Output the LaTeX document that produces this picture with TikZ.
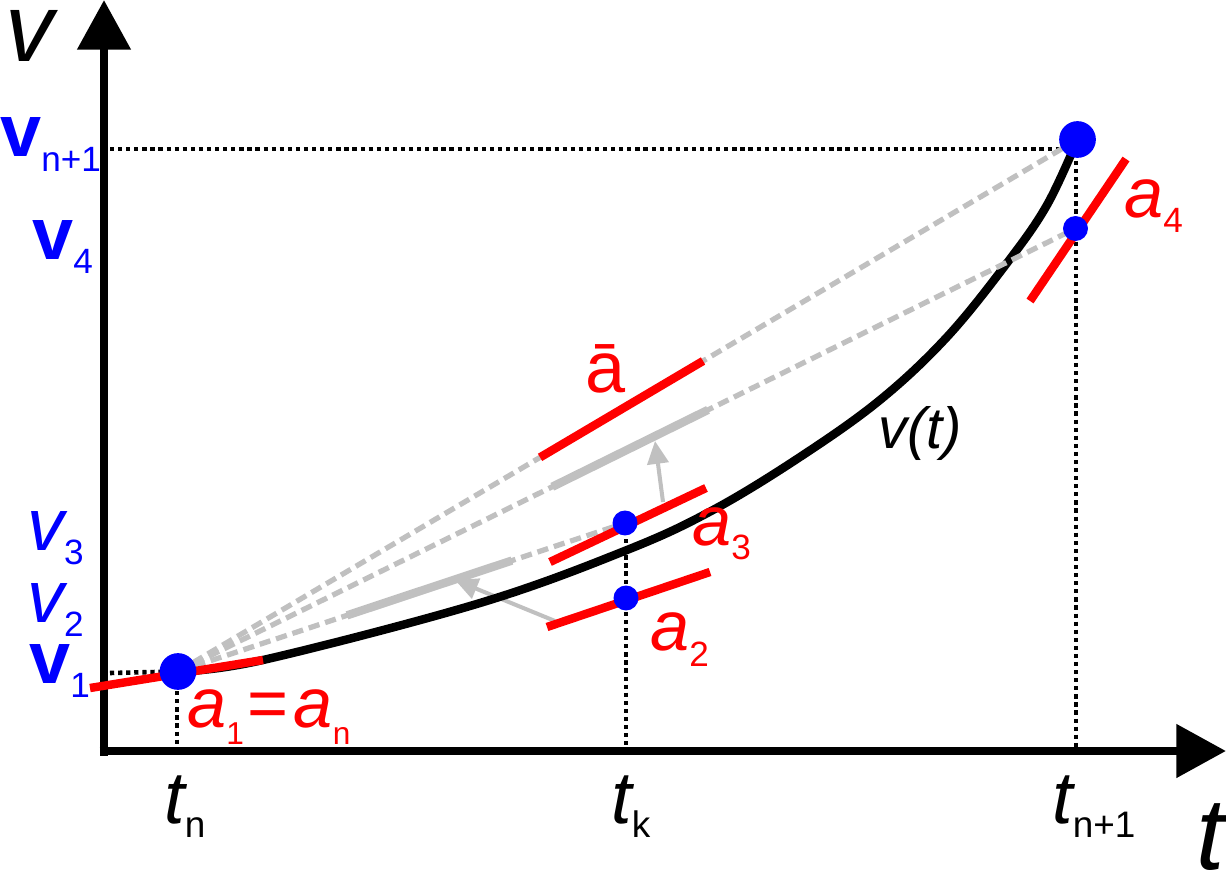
\documentclass[tikz,border=0pt]{standalone}
\usepackage{fontspec}
\setmainfont{Liberation Sans}
\usetikzlibrary{arrows.meta,calc}
\definecolor{vblue}{RGB}{0,0,255}
\definecolor{ared}{RGB}{255,0,0}
\definecolor{lgray}{RGB}{192,192,192}
\newcommand\myfs[1]{\fontsize{#1}{#1}\selectfont}
\begin{document}
\begin{tikzpicture}[x=0.02cm,y=-0.02cm,
  axis/.style={line width=5pt, -{Triangle[length=28.3pt,width=29.5pt]}},
  dotline/.style={line width=2.6pt, dash pattern=on 2.4pt off 2.2pt},
  chord/.style={lgray, line width=3pt, dash pattern=on 6.4pt off 3.4pt},
  thickgray/.style={lgray, line width=4.8pt},
  tangent/.style={ared, line width=4.8pt},
  curve/.style={line width=4.8pt},
  grayarrow/.style={lgray, line width=2.3pt, -{Triangle[length=13pt,width=12pt]}},
  bigdot/.style={circle, fill=vblue, inner sep=0pt, minimum size=20.9pt},
  smalldot/.style={circle, fill=vblue, inner sep=0pt, minimum size=14.2pt},
  lbl/.style={inner sep=0pt, anchor=base west},
]
\useasboundingbox (0,0) rectangle (1226,871);

% key coordinates
\coordinate (O) at (104,751);
\coordinate (Ytip) at (104,0);
\coordinate (Ystart) at (104,755.5);
\coordinate (Xstart) at (99.5,751);
\coordinate (Xtip) at (1226,751);
\coordinate (p1) at (178,671.5);
\coordinate (p2) at (626,598);
\coordinate (p3) at (625,523);
\coordinate (p4) at (1075.5,228.5);
\coordinate (pn1) at (1077.5,139.5);

% dotted guide lines
\coordinate (h1a) at (110,149);
\coordinate (h1b) at (1076,149);
\coordinate (v1b) at (1076,748);
\draw[dotline] (h1a) -- (h1b) -- (v1b);
\coordinate (h2a) at (110,673);
\draw[dotline] (h2a) -- (p1);
\coordinate (v2b) at (177,748);
\coordinate (v2a) at (177,675);
\draw[dotline] (v2a) -- (v2b);
\coordinate (v3a) at (626,523);
\coordinate (v3b) at (626,748);
\draw[dotline] (v3a) -- (v3b);

% axes
\draw[axis] (Ystart) -- (Ytip);
\draw[axis] (Xstart) -- (Xtip);

% gray arrows
\coordinate (A2s) at (555,621);
\coordinate (A2e) at (455,580);
\coordinate (A1s) at (663,502);
\coordinate (A1e) at (655,441);
\draw[grayarrow] (A2s) -- (A2e);
\draw[grayarrow] (A1s) -- (A1e);

% curve v(t)
\draw[curve] plot[smooth, tension=0.6] coordinates {(178,671.5) (263,660) (480,603) (627,550) (713,510) (800,457) (880,400) (947,337) (1007,263) (1047,205) (1077.5,139.5)};

% gray dashed chords
\draw[chord] (p1) -- (pn1);
\draw[chord] (p1) -- (p4);
\draw[chord] (p1) -- (p3);

% thick gray segments
\draw[thickgray] ($(p1)!0.417!(p4)$) -- ($(p1)!0.5905!(p4)$);
\draw[thickgray] ($(p1)!0.378!(p3)$) -- ($(p1)!0.747!(p3)$);

% red tangents
\draw[tangent] ($(p1)!0.4025!(pn1)$) -- ($(p1)!0.5837!(pn1)$);
\coordinate (t1a) at (90,688);
\coordinate (t1b) at (263,660);
\draw[tangent] (t1a) -- (t1b);
\coordinate (t3a) at (550,562);
\coordinate (t3b) at (706,488);
\draw[tangent] (t3a) -- (t3b);
\coordinate (t2a) at (547,627);
\coordinate (t2b) at (710,572);
\draw[tangent] (t2a) -- (t2b);
\coordinate (t4a) at (1030,301);
\coordinate (t4b) at (1126,159);
\draw[tangent] (t4a) -- (t4b);

% dots
\node[bigdot] (P1) at (p1) {};
\node[bigdot] (Pn1) at (pn1) {};
\node[smalldot] (P2) at (p2) {};
\node[smalldot] (P3) at (p3) {};
\node[smalldot] (P4) at (p4) {};

% blue labels
\node[lbl, text=vblue] (Vn1) at (0,157) {\myfs{42pt}\bfseries v\raisebox{-8.5pt}{\myfs{20pt}\mdseries n+1}};
\node[lbl, text=vblue] (V4) at (32,260) {\myfs{42pt}\bfseries v\raisebox{-7.4pt}{\myfs{20pt}\mdseries 4}};
\node[lbl, text=vblue] (V3) at (27,550) {\myfs{42pt}\itshape v\raisebox{-8.5pt}{\myfs{20pt}\upshape 3}};
\node[lbl, text=vblue] (V2) at (27,622) {\myfs{42pt}\itshape v\raisebox{-8.5pt}{\myfs{20pt}\upshape 2}};
\node[lbl, text=vblue] (V1) at (29,683) {\myfs{42pt}\bfseries v\raisebox{-8.5pt}{\myfs{20pt}\mdseries 1}};

% red labels
\node[lbl, text=ared] (A1) at (187,727) {\myfs{40pt}\itshape a\raisebox{-10pt}{\myfs{18pt}\upshape 1}\hspace{2pt}\upshape =\hspace{3pt}\itshape a\raisebox{-10pt}{\myfs{18pt}\upshape n}};
\node[lbl, text=ared] (Abar) at (585,392) {\myfs{41pt}ā};
\node[lbl, text=ared] (A3) at (692,545) {\myfs{40pt}\itshape a\raisebox{-8.5pt}{\myfs{20pt}\upshape 3}};
\node[lbl, text=ared] (A2) at (650,650) {\myfs{40pt}\itshape a\raisebox{-9.6pt}{\myfs{20pt}\upshape 2}};
\node[lbl, text=ared] (A4) at (1124,218) {\myfs{40pt}\itshape a\raisebox{-8pt}{\myfs{20pt}\upshape 4}};

% black labels
\node[lbl] (Vax) at (5,62) {\myfs{55pt}\itshape v};
\node[lbl] (Tax) at (1196,869) {\myfs{58pt}\itshape t};
\node[lbl] (Vt) at (878,448) {\myfs{33pt}\itshape v(t)};
\node[lbl] (Tn) at (164,823) {\myfs{42pt}\itshape t\raisebox{-8.5pt}{\myfs{21pt}\upshape n}};
\node[lbl] (Tk) at (611,823) {\myfs{42pt}\itshape t\raisebox{-8.5pt}{\myfs{21pt}\upshape k}};
\node[lbl] (Tn1) at (1052,823) {\myfs{42pt}\itshape t\raisebox{-8.5pt}{\myfs{21pt}\upshape n+1}};
\end{tikzpicture}
\end{document}
